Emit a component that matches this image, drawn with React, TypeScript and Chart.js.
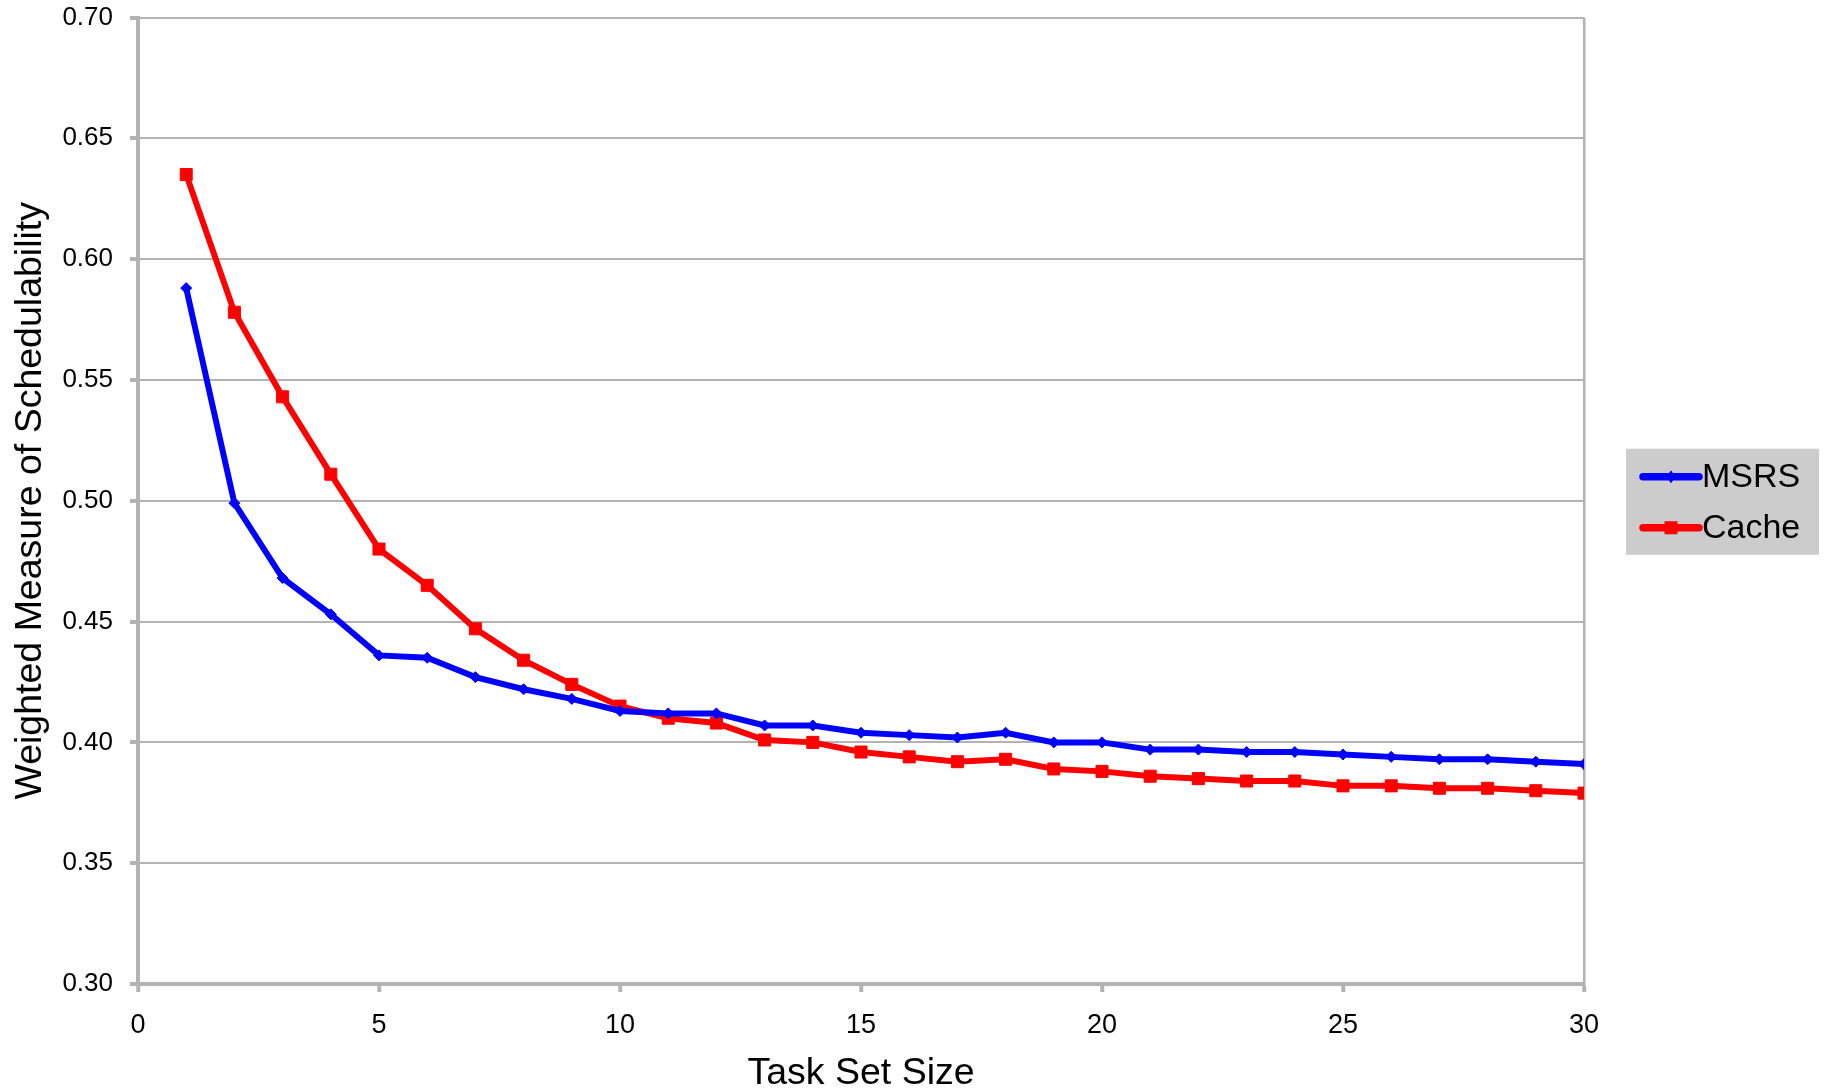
import React, { useEffect, useRef } from "react";
import { Chart, registerables } from "chart.js";

Chart.register(...registerables);

const taskSetSizes = [1, 2, 3, 4, 5, 6, 7, 8, 9, 10, 11, 12, 13, 14, 15, 16, 17, 18, 19, 20, 21, 22, 23, 24, 25, 26, 27, 28, 29, 30];
const msrsValues = [0.588, 0.499, 0.468, 0.453, 0.436, 0.435, 0.427, 0.422, 0.418, 0.413, 0.412, 0.412, 0.407, 0.407, 0.404, 0.403, 0.402, 0.404, 0.400, 0.400, 0.397, 0.397, 0.396, 0.396, 0.395, 0.394, 0.393, 0.393, 0.392, 0.391];
const cacheValues = [0.635, 0.578, 0.543, 0.511, 0.480, 0.465, 0.447, 0.434, 0.424, 0.415, 0.410, 0.408, 0.401, 0.400, 0.396, 0.394, 0.392, 0.393, 0.389, 0.388, 0.386, 0.385, 0.384, 0.384, 0.382, 0.382, 0.381, 0.381, 0.380, 0.379];
const seriesNames = ["MSRS", "Cache"];
const xAxisTitle = "Task Set Size";
const yAxisTitle = "Weighted Measure of Schedulability";
const xTickValues = [0, 5, 10, 15, 20, 25, 30];
const yTickValues = [0.3, 0.35, 0.4, 0.45, 0.5, 0.55, 0.6, 0.65, 0.7];

const FONT = "'Liberation Sans', Arial, Helvetica, sans-serif";
const GRID = "#b3b3b3";

const legendPlugin = {
  id: "boxLegend",
  afterDraw(chart: any) {
    const { ctx, chartArea } = chart;
    const left = chartArea.right + 42;
    const cy = (chartArea.top + chartArea.bottom) / 2;
    const top = cy - 52;
    const w = 193;
    const h = 106;
    ctx.save();
    ctx.fillStyle = "#cccccc";
    ctx.fillRect(left, top, w, h);
    const rows = [top + 28, top + 79];
    chart.data.datasets.forEach((ds: any, i: number) => {
      const y = rows[i];
      ctx.strokeStyle = ds.borderColor;
      ctx.lineWidth = 7.5;
      ctx.lineCap = "round";
      ctx.beginPath();
      ctx.moveTo(left + 17, y);
      ctx.lineTo(left + 73, y);
      ctx.stroke();
      ctx.fillStyle = ds.borderColor;
      const mx = left + 45;
      if (ds.pointStyle === "rect") {
        ctx.fillRect(mx - 6.5, y - 6.5, 13, 13);
      } else {
        ctx.beginPath();
        ctx.moveTo(mx, y - 6.5);
        ctx.lineTo(mx + 4.5, y);
        ctx.lineTo(mx, y + 6.5);
        ctx.lineTo(mx - 4.5, y);
        ctx.closePath();
        ctx.fill();
      }
      ctx.fillStyle = "#000";
      ctx.font = `34px ${FONT}`;
      ctx.textBaseline = "middle";
      ctx.textAlign = "left";
      ctx.fillText(ds.label, left + 76, y + 1);
    });
    ctx.restore();
  },
};

export default function App() {
  const canvasRef = useRef<HTMLCanvasElement | null>(null);

  useEffect(() => {
    if (!canvasRef.current) return;
    const chart = new Chart(canvasRef.current, {
      type: "line",
      data: {
        datasets: [
          {
            label: seriesNames[0],
            data: taskSetSizes.map((x, i) => ({ x, y: msrsValues[i] })),
            borderColor: "#0000ff",
            backgroundColor: "#0000ff",
            borderWidth: 6,
            pointStyle: "rectRot",
            pointRadius: 5.5,
            pointBorderWidth: 1,
            pointBackgroundColor: "#0000ff",
            pointBorderColor: "#0000ff",
            tension: 0,
          },
          {
            label: seriesNames[1],
            data: taskSetSizes.map((x, i) => ({ x, y: cacheValues[i] })),
            borderColor: "#ff0000",
            backgroundColor: "#ff0000",
            borderWidth: 6,
            pointStyle: "rect",
            pointRadius: 8.5,
            pointBorderWidth: 1,
            pointBackgroundColor: "#ff0000",
            pointBorderColor: "#ff0000",
            tension: 0,
          },
        ],
      },
      options: {
        responsive: false,
        animation: false,
        devicePixelRatio: 1,
        events: [],
        layout: { padding: { top: 17.5, right: 246, left: 0, bottom: 0 } },
        plugins: {
          legend: { display: false },
          tooltip: { enabled: false },
        },
        scales: {
          x: {
            type: "linear",
            position: "bottom",
            min: xTickValues[0],
            max: xTickValues[xTickValues.length - 1],
            afterBuildTicks: (scale: any) => {
              scale.ticks = xTickValues.map((v) => ({ value: v }));
            },
            afterFit: (scale: any) => {
              scale.height = 105;
              scale.paddingLeft = 0;
              scale.paddingRight = 0;
            },
            ticks: {
              color: "#000",
              font: { family: FONT, size: 27 },
              padding: 17,
              maxRotation: 0,
              callback: (v: any) => String(v),
            },
            grid: {
              color: (c: any) => (c.tick && c.tick.value === 30 ? GRID : "rgba(0,0,0,0)"),
              lineWidth: 2.5,
              tickColor: GRID,
              tickLength: 8,
              tickWidth: 4,
            },
            border: { color: GRID, width: 4 },
            title: {
              display: true,
              text: xAxisTitle,
              color: "#000",
              font: { family: FONT, size: 37.5 },
              padding: { top: 0, bottom: -7 },
            },
          },
          y: {
            type: "linear",
            min: yTickValues[0],
            max: yTickValues[yTickValues.length - 1],
            afterBuildTicks: (scale: any) => {
              scale.ticks = yTickValues.map((v) => ({ value: v }));
            },
            afterFit: (scale: any) => {
              scale.width = 138;
              scale.paddingTop = 0;
              scale.paddingBottom = 0;
            },
            ticks: {
              color: "#000",
              font: { family: FONT, size: 26 },
              padding: 17,
              callback: (v: any) => Number(v).toFixed(2),
            },
            grid: {
              color: GRID,
              lineWidth: 2,
              tickColor: GRID,
              tickLength: 8,
              tickWidth: 4,
            },
            border: { color: GRID, width: 4 },
            title: {
              display: true,
              text: yAxisTitle,
              color: "#000",
              font: { family: FONT, size: 37.5 },
              padding: { top: 8.5, bottom: 0 },
            },
          },
        },
      },
      plugins: [legendPlugin],
    } as any);
    return () => chart.destroy();
  }, []);

  return (
    <div style={{ position: "absolute", left: 0, top: 0, width: 1830, height: 1089, background: "#fff" }}>
      <canvas ref={canvasRef} width={1830} height={1089} style={{ display: "block" }} />
    </div>
  );
}
